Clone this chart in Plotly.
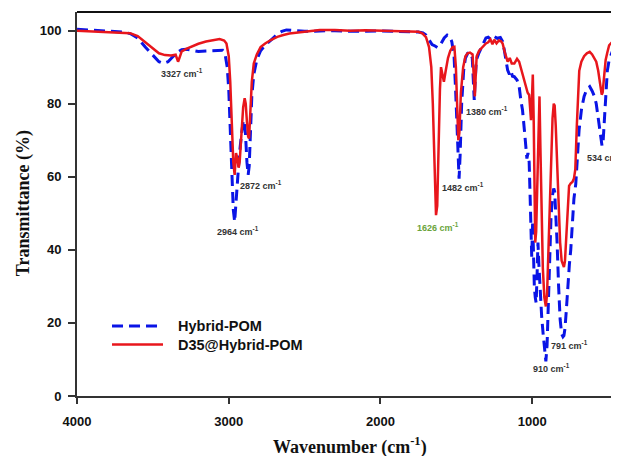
import plotly.graph_objects as go

# ---------------- data ----------------
hybrid_wn = [4000, 3900, 3800, 3700, 3650, 3600, 3550, 3500, 3460, 3432, 3400, 3370, 3340, 3310, 3280, 3240, 3200,
             3150, 3100, 3060, 3040, 3025, 3010, 3000, 2990, 2980, 2970, 2961, 2952, 2943, 2930, 2915, 2905, 2898,
             2890, 2880, 2872, 2865, 2858, 2848, 2835, 2815, 2790, 2760, 2720, 2680, 2650, 2620, 2560, 2500, 2400,
             2300, 2200, 2100, 2000, 1900, 1800, 1750, 1720, 1700, 1680, 1660, 1640, 1625, 1612, 1600, 1580, 1560,
             1545, 1530, 1515, 1505, 1495, 1488, 1482, 1475, 1465, 1452, 1440, 1425, 1410, 1395, 1387, 1382, 1376,
             1368, 1350, 1330, 1305, 1290, 1270, 1250, 1230, 1210, 1195, 1184, 1172, 1162, 1150, 1140, 1130, 1118,
             1100, 1086, 1075, 1064, 1052, 1042, 1035, 1028, 1020, 1014, 1009, 1003, 997, 992, 986, 980, 974, 968,
             962, 956, 948, 938, 928, 918, 910, 902, 894, 886, 876, 866, 858, 852, 845, 836, 826, 816, 806, 797, 791,
             784, 776, 766, 755, 746, 735, 725, 713, 703, 691, 675, 658, 640, 621, 605, 590, 578, 568, 558, 548, 540,
             534, 528, 522, 516, 505, 493, 470, 450, 428]
hybrid_t = [100.4, 100.1, 99.8, 99.6, 99.2, 98.0, 95.5, 93.2, 91.5, 91.0, 91.5, 92.8, 94.0, 94.8, 94.9, 94.6, 94.3,
            94.4, 94.5, 94.7, 94.6, 93.8, 90.0, 84.0, 72.0, 60.0, 51.0, 47.7, 54.0, 60.0, 66.0, 72.0, 75.0, 75.5,
            72.0, 64.0, 60.5, 63.0, 72.0, 82.0, 88.0, 92.0, 94.5, 96.0, 97.5, 99.0, 99.8, 100.2, 100.0, 99.8, 99.9,
            100.0, 99.8, 99.9, 99.9, 99.8, 99.8, 99.6, 99.4, 98.8, 97.5, 96.2, 95.8, 95.4, 95.6, 96.5, 98.0, 98.8,
            98.5, 97.0, 93.0, 84.0, 72.0, 62.0, 59.5, 66.0, 80.0, 89.0, 92.5, 93.8, 94.0, 92.5, 86.0, 81.0, 86.0,
            92.0, 94.0, 96.0, 98.0, 98.2, 97.5, 98.4, 97.9, 98.1, 97.0, 94.7, 91.5, 89.2, 88.0, 89.0, 87.5, 87.4,
            86.5, 84.7, 81.0, 78.3, 73.0, 69.0, 65.0, 66.5, 64.0, 55.0, 45.0, 38.0, 48.0, 36.0, 30.0, 27.0, 25.5, 33.0,
            42.0, 36.0, 28.0, 22.0, 17.0, 12.0, 9.5, 14.0, 26.0, 39.0, 49.0, 55.0, 56.8, 56.0, 51.0, 42.0, 30.0, 21.0,
            17.0, 16.2, 16.5, 18.5, 23.0, 30.0, 36.0, 40.0, 47.0, 54.0, 58.0, 66.0, 72.8, 78.5, 82.0, 84.0, 84.7,
            83.5, 82.0, 80.0, 77.0, 73.0, 70.0, 68.5, 68.8, 73.0, 80.0, 84.7, 89.0, 92.0, 94.5, 95.6, 97.0]

d35_wn = [4000, 3900, 3800, 3700, 3650, 3600, 3550, 3500, 3460, 3420, 3380, 3350, 3340, 3334, 3325, 3310, 3280, 3240,
          3200, 3150, 3100, 3060, 3030, 3015, 3000, 2990, 2980, 2970, 2961, 2952, 2943, 2935, 2928, 2918, 2905,
          2895, 2888, 2880, 2872, 2866, 2858, 2848, 2835, 2815, 2790, 2760, 2720, 2680, 2640, 2600, 2500, 2400,
          2300, 2200, 2100, 2000, 1900, 1800, 1750, 1722, 1700, 1680, 1665, 1655, 1645, 1634, 1626, 1618, 1608,
          1601, 1592, 1582, 1570, 1555, 1540, 1525, 1513, 1503, 1495, 1487, 1480, 1470, 1455, 1440, 1426, 1410,
          1393, 1385, 1378, 1372, 1366, 1350, 1327, 1305, 1290, 1275, 1262, 1250, 1235, 1220, 1205, 1195, 1180,
          1162, 1148, 1135, 1118, 1100, 1086, 1070, 1053, 1040, 1030, 1020, 1012, 1008, 1003, 996, 990, 985, 980,
          974, 968, 960, 952, 946, 938, 930, 920, 910, 902, 894, 886, 876, 866, 858, 852, 845, 836, 826, 816, 806,
          797, 791, 784, 776, 768, 757, 746, 735, 725, 716, 706, 698, 690, 676, 658, 640, 621, 605, 590, 578, 565,
          552, 542, 536, 528, 516, 505, 493, 470, 450, 428]
d35_t = [100.0, 99.8, 99.6, 99.5, 99.3, 98.5, 96.8, 95.0, 93.8, 93.3, 93.2, 93.4, 92.5, 91.5, 92.5, 94.3, 95.0, 95.8,
         96.4, 97.0, 97.4, 97.7, 97.3, 96.5, 93.0, 86.0, 75.0, 64.0, 60.5, 66.5, 65.0, 62.5, 64.0, 72.0, 79.0,
         81.5, 80.0, 75.0, 71.0, 70.5, 78.0, 86.0, 91.0, 93.5, 95.5, 96.5, 97.5, 98.3, 98.8, 99.2, 99.7, 100.2,
         100.2, 100.0, 100.1, 100.0, 99.9, 99.8, 99.7, 99.2, 98.2, 95.5, 90.0, 80.0, 65.0, 49.5, 52.0, 68.0, 84.0,
         90.0, 88.5, 86.0, 89.0, 92.5, 94.5, 95.5, 95.6, 90.0, 80.0, 70.0, 72.0, 83.0, 90.0, 93.0, 93.8, 94.0,
         93.5, 88.0, 82.0, 88.0, 93.0, 94.5, 95.6, 96.5, 96.8, 97.6, 96.3, 97.5, 96.5, 97.3, 97.1, 96.5, 94.0,
         91.5, 92.5, 91.0, 91.0, 92.3, 91.5, 89.0, 86.5, 85.0, 83.0, 82.4, 78.0, 75.5, 80.0, 88.0, 75.0, 55.0, 42.0,
         45.0, 58.0, 72.0, 82.0, 68.0, 48.0, 35.0, 27.0, 24.5, 28.0, 38.0, 52.0, 66.0, 76.0, 80.0, 79.5, 74.0, 64.0,
         52.0, 42.0, 37.0, 35.5, 35.3, 37.0, 43.0, 52.0, 57.5, 58.2, 58.6, 59.5, 62.0, 74.0, 84.0, 89.0, 91.5,
         93.0, 93.8, 94.2, 93.5, 92.5, 91.5, 89.0, 85.5, 82.5, 83.0, 87.0, 92.0, 94.0, 96.0, 97.0, 97.5, 98.0]

series_names = ["Hybrid-POM", "D35@Hybrid-POM"]
x_ticks = [4000, 3000, 2000, 1000]
y_ticks = [0, 20, 40, 60, 80, 100]

# peak labels: (text, x, y, colour)
peak_labels = [
    ("3327 cm<sup>-1</sup>", 3308, 88.3, "#333333"),
    ("2872 cm<sup>-1</sup>", 2787, 57.7, "#333333"),
    ("2964 cm<sup>-1</sup>", 2939, 45.2, "#333333"),
    ("1482 cm<sup>-1</sup>", 1456, 57.1, "#333333"),
    ("1380 cm<sup>-1</sup>", 1298, 78.0, "#333333"),
    ("1626 cm<sup>-1</sup>", 1624, 46.3, "#6AA43C"),
    ("791 cm<sup>-1</sup>", 751, 13.9, "#333333"),
    ("910 cm<sup>-1</sup>", 872, 7.7, "#333333"),
]
label_534 = ("534 cm<sup>-1</sup>", 652, 65.5)

BLUE = "#0A14E6"
RED = "#E8161C"
BLUE_DASH = "11px,6px"

fig = go.Figure()
fig.add_trace(go.Scatter(x=hybrid_wn, y=hybrid_t, mode="lines", name=series_names[0],
                         line=dict(color=BLUE, width=3, dash=BLUE_DASH), showlegend=False))
fig.add_trace(go.Scatter(x=d35_wn, y=d35_t, mode="lines", name=series_names[1],
                         line=dict(color=RED, width=2.5), showlegend=False))

ann = []
for txt, x, y, c in peak_labels:
    ann.append(dict(x=x, y=y, xref="x", yref="y", text=txt, showarrow=False,
                    xanchor="center", yanchor="middle",
                    font=dict(family="Liberation Sans, Arial", size=9, color=c, weight="bold")))
ann.append(dict(x=label_534[1], y=label_534[2], xref="x", yref="y", text=label_534[0], showarrow=False,
                xanchor="left", yanchor="middle",
                font=dict(family="Liberation Sans, Arial", size=9, color="#333333", weight="bold")))

# axis titles
ann.append(dict(x=0.5037, y=-0.131, xref="paper", yref="paper", text="Wavenumber (cm<sup>-1</sup>)",
                showarrow=False, xanchor="center", yanchor="middle",
                font=dict(family="Liberation Serif, Times New Roman", size=18, color="#111111", weight="bold")))
ann.append(dict(x=-0.0996, y=0.502, xref="paper", yref="paper", text="Transmittance (%)", textangle=-90,
                showarrow=False, xanchor="center", yanchor="middle",
                font=dict(family="Liberation Serif, Times New Roman", size=18, color="#111111", weight="bold")))

# legend (drawn manually)
leg_y = [0.1824, 0.134]
shapes = [
    dict(type="line", xref="paper", yref="paper", x0=0, x1=1, y0=1, y1=1, line=dict(color="#111111", width=2)),
    dict(type="line", xref="paper", yref="paper", x0=0.0646, x1=0.1587, y0=leg_y[0], y1=leg_y[0],
         line=dict(color=BLUE, width=3, dash=BLUE_DASH)),
    dict(type="line", xref="paper", yref="paper", x0=0.0646, x1=0.1587, y0=leg_y[1], y1=leg_y[1],
         line=dict(color=RED, width=2.5)),
]
for name, yy in zip(series_names, leg_y):
    ann.append(dict(x=0.1827, y=yy, xref="paper", yref="paper", text=name, showarrow=False,
                    xanchor="left", yanchor="middle",
                    font=dict(family="Liberation Sans, Arial", size=14.5, color="#111111", weight="bold")))

# page body has an 8px margin, so the figure is sized to fit the remaining window
fig.update_layout(
    width=611, height=448,
    margin=dict(l=69, r=0, t=4, b=60),
    plot_bgcolor="white", paper_bgcolor="white",
    annotations=ann, shapes=shapes,
    showlegend=False,
)
fig.update_xaxes(range=[4000, 428], tickvals=x_ticks, ticks="outside", ticklen=6, tickwidth=1.5,
                 tickcolor="#333333", showline=True, linecolor="#333333", linewidth=2, showgrid=False,
                 zeroline=False, ticklabelstandoff=6,
                 tickfont=dict(family="Liberation Sans, Arial", size=13, color="#111111", weight="bold"))
fig.update_yaxes(range=[0, 105.1], tickvals=y_ticks, ticks="outside", ticklen=7, tickwidth=1.5,
                 tickcolor="#333333", showline=True, linecolor="#333333", linewidth=2, showgrid=False,
                 zeroline=False, ticklabelstandoff=4,
                 tickfont=dict(family="Liberation Sans, Arial", size=13, color="#111111", weight="bold"))

fig.write_html("out.html")
